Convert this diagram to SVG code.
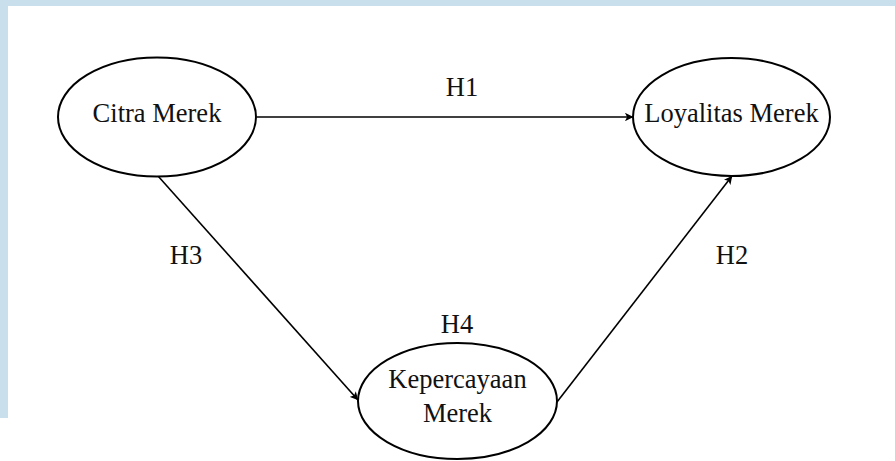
<svg xmlns="http://www.w3.org/2000/svg" width="895" height="461" viewBox="0 0 895 461">
  <style>
    .node ellipse { fill: #ffffff; stroke: #000000; stroke-width: 2; }
    text { font-family: "Liberation Serif", "Times New Roman", serif; font-size: 26.5px; fill: #111111; text-anchor: middle; }
    .edge { stroke: #000000; stroke-width: 1.6; fill: none; marker-end: url(#arrow); }
  </style>
  <defs>
    <marker id="arrow" viewBox="0 0 10 10" refX="9.5" refY="5" markerWidth="8.5" markerHeight="8.5" markerUnits="userSpaceOnUse" orient="auto">
      <path d="M0,0 L10,5 L0,10 L2.5,5 Z" fill="#000000"/>
    </marker>
  </defs>
  <rect x="0" y="0" width="895" height="461" fill="#c9dfec"/>
  <rect x="8" y="6" width="887" height="455" fill="#ffffff"/>
  <rect x="0" y="418" width="8" height="43" fill="#ffffff"/>

  <g id="connectors">
    <line class="edge" x1="257" y1="117" x2="633" y2="117"/>
    <line class="edge" x1="158" y1="176" x2="358" y2="400"/>
    <line class="edge" x1="557" y1="402" x2="732" y2="176"/>
    <text x="462" y="96">H1</text>
    <text x="732" y="264">H2</text>
    <text x="186" y="264">H3</text>
    <text x="457" y="333">H4</text>
  </g>

  <g id="citra" class="node">
    <ellipse cx="157" cy="117" rx="99" ry="59.5"/>
    <text x="157" y="122">Citra Merek</text>
  </g>
  <g id="loyalitas" class="node">
    <ellipse cx="731.5" cy="117" rx="98.5" ry="59"/>
    <text x="731.5" y="122">Loyalitas Merek</text>
  </g>
  <g id="kepercayaan" class="node">
    <ellipse cx="457.5" cy="401" rx="99.5" ry="58"/>
    <text x="457.5" y="388">Kepercayaan</text>
    <text x="457.5" y="422">Merek</text>
  </g>
</svg>
